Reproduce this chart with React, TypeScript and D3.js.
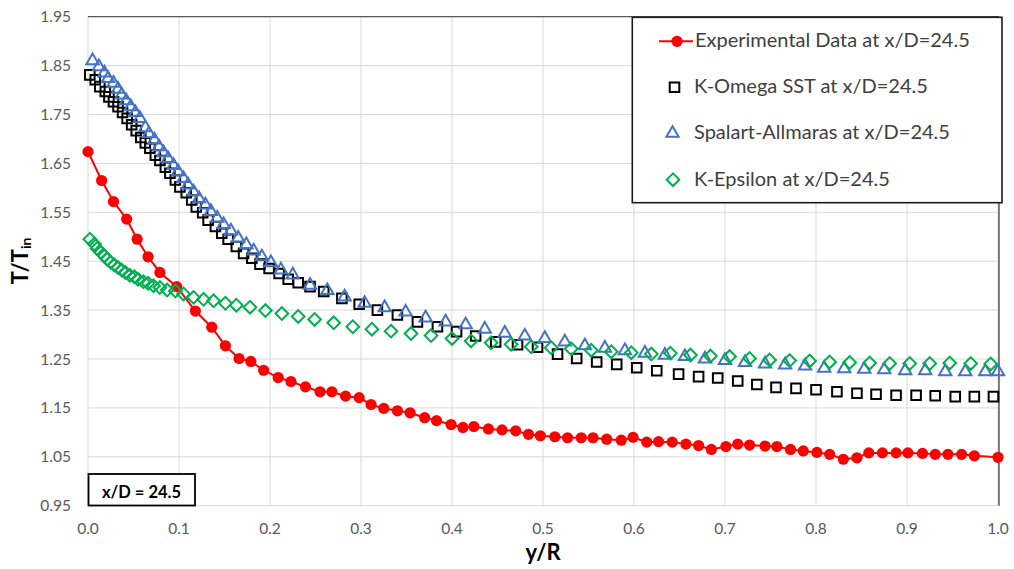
import React from "react";
import * as d3 from "d3";

// ---------- data ----------
const expX = [0, 0.015, 0.028, 0.0425, 0.054, 0.066, 0.079, 0.0975, 0.118, 0.136, 0.151, 0.166, 0.179, 0.193, 0.209, 0.223, 0.239, 0.255, 0.268, 0.283, 0.298, 0.311, 0.325, 0.34, 0.354, 0.37, 0.383, 0.399, 0.412, 0.424, 0.44, 0.455, 0.47, 0.484, 0.497, 0.513, 0.527, 0.542, 0.555, 0.57, 0.586, 0.599, 0.614, 0.627, 0.642, 0.657, 0.671, 0.685, 0.701, 0.714, 0.727, 0.744, 0.757, 0.772, 0.786, 0.801, 0.815, 0.83, 0.845, 0.858, 0.873, 0.888, 0.901, 0.917, 0.931, 0.945, 0.96, 0.974, 1.0];
const expY = [1.674, 1.615, 1.572, 1.536, 1.495, 1.459, 1.427, 1.398, 1.348, 1.315, 1.277, 1.251, 1.245, 1.227, 1.212, 1.204, 1.193, 1.183, 1.183, 1.174, 1.171, 1.157, 1.149, 1.144, 1.14, 1.13, 1.124, 1.116, 1.11, 1.112, 1.107, 1.105, 1.103, 1.096, 1.093, 1.091, 1.089, 1.089, 1.089, 1.086, 1.084, 1.09, 1.08, 1.081, 1.08, 1.076, 1.073, 1.065, 1.071, 1.076, 1.074, 1.072, 1.071, 1.065, 1.062, 1.059, 1.055, 1.045, 1.048, 1.058, 1.058, 1.058, 1.058, 1.057, 1.055, 1.055, 1.055, 1.052, 1.049];

const sstX = [0.002, 0.008, 0.013, 0.019, 0.023, 0.028, 0.033, 0.038, 0.043, 0.048, 0.053, 0.058, 0.063, 0.068, 0.074, 0.079, 0.085, 0.09, 0.096, 0.101, 0.108, 0.114, 0.119, 0.126, 0.132, 0.14, 0.147, 0.154, 0.163, 0.171, 0.18, 0.189, 0.199, 0.21, 0.22, 0.231, 0.244, 0.259, 0.279, 0.298, 0.318, 0.34, 0.362, 0.384, 0.405, 0.426, 0.448, 0.472, 0.494, 0.516, 0.537, 0.559, 0.581, 0.603, 0.625, 0.649, 0.671, 0.692, 0.714, 0.735, 0.756, 0.778, 0.8, 0.823, 0.845, 0.866, 0.888, 0.91, 0.931, 0.953, 0.974, 0.995];
const sstY = [1.831, 1.821, 1.807, 1.797, 1.786, 1.776, 1.766, 1.754, 1.742, 1.729, 1.717, 1.703, 1.692, 1.681, 1.667, 1.656, 1.642, 1.63, 1.616, 1.602, 1.59, 1.575, 1.561, 1.549, 1.534, 1.521, 1.507, 1.495, 1.48, 1.466, 1.456, 1.444, 1.435, 1.425, 1.413, 1.406, 1.398, 1.388, 1.374, 1.362, 1.35, 1.34, 1.326, 1.316, 1.306, 1.297, 1.285, 1.279, 1.274, 1.26, 1.251, 1.244, 1.239, 1.232, 1.226, 1.219, 1.214, 1.211, 1.205, 1.198, 1.192, 1.19, 1.187, 1.183, 1.18, 1.178, 1.176, 1.176, 1.175, 1.173, 1.173, 1.173];

const saX = [0.005, 0.012, 0.018, 0.022, 0.028, 0.033, 0.037, 0.042, 0.047, 0.052, 0.057, 0.063, 0.067, 0.073, 0.078, 0.083, 0.088, 0.094, 0.099, 0.105, 0.11, 0.116, 0.122, 0.129, 0.135, 0.142, 0.149, 0.157, 0.165, 0.174, 0.182, 0.191, 0.201, 0.212, 0.225, 0.244, 0.263, 0.282, 0.304, 0.326, 0.349, 0.371, 0.393, 0.415, 0.436, 0.458, 0.48, 0.502, 0.524, 0.546, 0.568, 0.59, 0.612, 0.634, 0.656, 0.678, 0.7, 0.722, 0.744, 0.766, 0.788, 0.809, 0.831, 0.853, 0.875, 0.898, 0.92, 0.942, 0.964, 0.986, 1.0];
const saY = [1.86, 1.848, 1.835, 1.824, 1.814, 1.802, 1.79, 1.778, 1.766, 1.754, 1.742, 1.723, 1.711, 1.698, 1.684, 1.672, 1.66, 1.646, 1.633, 1.619, 1.606, 1.592, 1.578, 1.565, 1.552, 1.538, 1.525, 1.512, 1.497, 1.484, 1.471, 1.459, 1.447, 1.432, 1.422, 1.401, 1.39, 1.377, 1.364, 1.355, 1.346, 1.334, 1.326, 1.32, 1.311, 1.303, 1.297, 1.292, 1.285, 1.277, 1.272, 1.267, 1.262, 1.258, 1.255, 1.25, 1.247, 1.243, 1.24, 1.238, 1.236, 1.231, 1.23, 1.229, 1.228, 1.226, 1.226, 1.224, 1.224, 1.224, 1.224];

const keX = [0.002, 0.007, 0.01, 0.014, 0.018, 0.021, 0.025, 0.029, 0.033, 0.037, 0.041, 0.046, 0.051, 0.055, 0.061, 0.066, 0.072, 0.079, 0.087, 0.096, 0.105, 0.116, 0.127, 0.138, 0.151, 0.163, 0.178, 0.195, 0.213, 0.231, 0.249, 0.27, 0.291, 0.312, 0.333, 0.355, 0.377, 0.4, 0.421, 0.443, 0.465, 0.487, 0.509, 0.531, 0.553, 0.575, 0.597, 0.619, 0.64, 0.662, 0.684, 0.705, 0.727, 0.749, 0.771, 0.793, 0.815, 0.837, 0.859, 0.881, 0.903, 0.925, 0.947, 0.97, 0.992];
const keY = [1.495, 1.485, 1.476, 1.468, 1.461, 1.454, 1.448, 1.442, 1.437, 1.432, 1.427, 1.421, 1.418, 1.413, 1.408, 1.405, 1.4, 1.396, 1.391, 1.389, 1.383, 1.376, 1.372, 1.369, 1.364, 1.36, 1.356, 1.349, 1.343, 1.337, 1.331, 1.324, 1.316, 1.311, 1.307, 1.302, 1.298, 1.292, 1.287, 1.283, 1.28, 1.275, 1.273, 1.271, 1.268, 1.265, 1.263, 1.26, 1.262, 1.258, 1.256, 1.255, 1.251, 1.248, 1.247, 1.246, 1.244, 1.243, 1.242, 1.241, 1.241, 1.241, 1.242, 1.241, 1.24];

const xTicks = [0, 0.1, 0.2, 0.3, 0.4, 0.5, 0.6, 0.7, 0.8, 0.9, 1.0];
const yTicks = [0.95, 1.05, 1.15, 1.25, 1.35, 1.45, 1.55, 1.65, 1.75, 1.85, 1.95];

const legendLabels = [
  "Experimental Data at x/D=24.5",
  "K-Omega SST at x/D=24.5",
  "Spalart-Allmaras at x/D=24.5",
  "K-Epsilon at x/D=24.5",
];

const FONT = "Lato, 'Open Sans', sans-serif";
const RED = "#FF0000";
const BLUE = "#4472C4";
const GREEN = "#00B050";

export default function App() {
  const W = 1014, H = 569;
  const x = d3.scaleLinear().domain([0, 1]).range([88, 998]);
  const y = d3.scaleLinear().domain([0.95, 1.95]).range([505.7, 16.7]);

  const line = d3.line<number>().x((_, i) => x(expX[i])).y((d) => y(d));

  const sq = d3.symbol().type(d3.symbolSquare).size(92)();
  const tri = d3.symbol().type(d3.symbolTriangle).size(66)();
  const dia = d3.symbol().type(d3.symbolSquare).size(80)();

  const legendRows = [47.3, 93.3, 139.3, 185.7];

  return (
    <svg width={W} height={H} style={{ position: "absolute", left: 0, top: 0, background: "#fff" }} fontFamily={FONT}>
      <rect x={0} y={0} width={W} height={H} fill="#fff" />
      {/* grid */}
      {yTicks.map((t) => (
        <line key={"gy" + t} x1={x(0)} x2={x(1)} y1={y(t)} y2={y(t)} stroke="#d9d9d9" strokeWidth={1} />
      ))}
      {xTicks.map((t) => (
        <line key={"gx" + t} x1={x(t)} x2={x(t)} y1={y(1.95)} y2={y(0.95)} stroke="#d9d9d9" strokeWidth={1} />
      ))}
      <line x1={x(0)} x2={x(1) + 1} y1={y(1.95)} y2={y(1.95)} stroke="#595959" strokeWidth={1.3} />
      <line x1={x(1) + 1} x2={x(1) + 1} y1={y(1.95)} y2={y(0.95)} stroke="#404040" strokeWidth={1.3} />

      {/* tick labels */}
      {yTicks.map((t) => (
        <text key={"ly" + t} x={71} y={y(t) + 5.5} textAnchor="end" fontSize={15.5} fill="#595959">
          {t.toFixed(2)}
        </text>
      ))}
      {xTicks.map((t) => (
        <text key={"lx" + t} x={x(t)} y={533.5} textAnchor="middle" fontSize={15.5} fill="#595959">
          {t.toFixed(1)}
        </text>
      ))}

      {/* axis titles */}
      <text x={543} y={560} textAnchor="middle" fontSize={22} fontWeight="bold" fill="#000">y/R</text>
      <text transform="translate(28,261) rotate(-90)" textAnchor="middle" fontSize={22} fontWeight="bold" fill="#000">
        T/T<tspan fontSize={14} dy={3}>in</tspan>
      </text>

      {/* experimental */}
      <path d={line(expY) || ""} fill="none" stroke={RED} strokeWidth={2} />
      {expY.map((v, i) => (
        <circle key={"e" + i} cx={x(expX[i])} cy={y(v)} r={5.6} fill={RED} />
      ))}
      {/* K-Omega SST */}
      {sstY.map((v, i) => (
        <path key={"s" + i} d={sq} transform={`translate(${x(sstX[i])},${y(v)})`} fill="none" stroke="#000" strokeWidth={2} />
      ))}
      {/* Spalart-Allmaras */}
      {saY.map((v, i) => (
        <path key={"a" + i} d={tri} transform={`translate(${x(saX[i])},${y(v)})`} fill="none" stroke={BLUE} strokeWidth={2} />
      ))}
      {/* K-Epsilon */}
      {keY.map((v, i) => (
        <path key={"k" + i} d={dia} transform={`translate(${x(keX[i])},${y(v)}) rotate(45)`} fill="none" stroke={GREEN} strokeWidth={2} />
      ))}

      {/* annotation box */}
      <rect x={88.5} y={474} width={106.5} height={31.5} fill="#fff" stroke="#000" strokeWidth={1.8} />
      <text x={141.5} y={497.5} textAnchor="middle" fontSize={16.5} fontWeight="bold" fill="#000">x/D = 24.5</text>

      {/* legend */}
      <rect x={632.3} y={17.3} width={369.7} height={185.4} fill="#fff" stroke="#1a1a1a" strokeWidth={1.6} />
      <line x1={659} x2={693} y1={legendRows[0] - 6} y2={legendRows[0] - 6} stroke={RED} strokeWidth={2} />
      <circle cx={677} cy={legendRows[0] - 6} r={5.6} fill={RED} />
      <path d={sq} transform={`translate(674.5,${legendRows[1] - 6})`} fill="none" stroke="#000" strokeWidth={2} />
      <path d={tri} transform={`translate(672.5,${legendRows[2] - 6})`} fill="none" stroke={BLUE} strokeWidth={2} />
      <path d={dia} transform={`translate(673,${legendRows[3] - 6}) rotate(45)`} fill="none" stroke={GREEN} strokeWidth={2} />
      {legendLabels.map((l, i) => (
        <text key={l} x={i === 0 ? 695 : 694} y={legendRows[i]} fontSize={20} fill="#404040">{l}</text>
      ))}
    </svg>
  );
}
